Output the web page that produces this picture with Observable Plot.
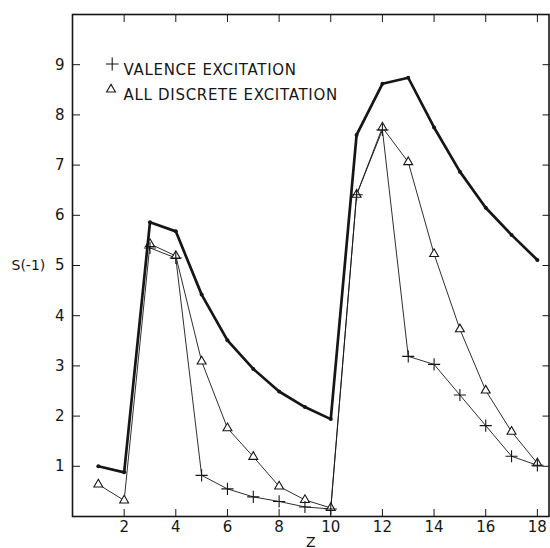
<!DOCTYPE html>
<html><head><meta charset="utf-8">
<script src="https://cdn.jsdelivr.net/npm/d3@7"></script>
<script src="https://cdn.jsdelivr.net/npm/@observablehq/plot@0.6"></script>
<style>
html,body{margin:0;padding:0;background:#fff;}
</style></head><body><div id="chart"></div>
<script>
// Atomic number Z
const zValues = [1,2,3,4,5,6,7,8,9,10,11,12,13,14,15,16,17,18];
// Total S(-1) (thick line, filled dots)
const totalS = [1.00,0.88,5.86,5.68,4.42,3.51,2.94,2.49,2.18,1.94,7.60,8.62,8.74,7.75,6.87,6.15,5.61,5.11];
// All discrete excitation (triangles)
const discreteS = [0.64,0.32,5.43,5.19,3.09,1.76,1.19,0.60,0.33,0.17,6.41,7.75,7.06,5.23,3.73,2.51,1.69,1.06];
// Valence excitation (crosses)
const valenceZ = [3,4,5,6,7,8,9,10,11,12,13,14,15,16,17,18];
const valenceS = [5.35,5.15,0.82,0.55,0.39,0.30,0.19,0.15,6.41,7.70,3.19,3.03,2.42,1.81,1.20,1.02];

const xTicks = [2,4,6,8,10,12,14,16,18];
const yTicks = [1,2,3,4,5,6,7,8,9];
const legendLabels = ["VALENCE EXCITATION", "ALL DISCRETE EXCITATION"];
const yLabel = "S(-1)";
const xLabel = "Z";

const total = zValues.map((z, i) => ({z, s: totalS[i]}));
const discrete = zValues.map((z, i) => ({z, s: discreteS[i]}));
const valence = valenceZ.map((z, i) => ({z, s: valenceS[i]}));

const ink = "#161616";
const fmt = d3.format("d");
const chart = Plot.plot({
  width: 550, height: 548,
  marginLeft: 72, marginRight: 1.5, marginTop: 14, marginBottom: 32,
  x: {domain: [0, 18.45]},
  y: {domain: [0, 10]},
  style: {fontFamily: "'DejaVu Sans', sans-serif", fontSize: "15px", color: ink, background: "#fff"},
  marks: [
    Plot.axisY(yTicks, {anchor: "left", tickSize: -8, tickPadding: 16, tickFormat: fmt, label: null, stroke: ink, fontSize: 15}),
    Plot.axisY(yTicks, {anchor: "right", tickSize: -7, tickFormat: () => "", label: null, stroke: ink}),
    Plot.axisX(xTicks, {anchor: "bottom", tickSize: -7, tickPadding: 12, tickFormat: fmt, label: null, stroke: ink, fontSize: 15}),
    Plot.axisX(xTicks, {anchor: "top", tickSize: -7, tickFormat: () => "", label: null, stroke: ink}),
    Plot.frame({stroke: ink, strokeWidth: 1.6}),
    Plot.line(valence, {x: "z", y: "s", stroke: ink, strokeWidth: 0.9}),
    Plot.line(discrete, {x: "z", y: "s", stroke: ink, strokeWidth: 0.9}),
    Plot.dot(discrete, {x: "z", y: "s", symbol: "triangle", r: 3.3, stroke: ink, fill: "white", strokeWidth: 1.1}),
    Plot.dot(valence, {x: "z", y: "s", symbol: "plus", r: 4, stroke: ink, strokeWidth: 1.1}),
    Plot.line(total, {x: "z", y: "s", stroke: ink, strokeWidth: 2.7}),
    Plot.dot(total, {x: "z", y: "s", r: 2, fill: ink}),
    // legend
    Plot.dot([legendLabels[0]], {frameAnchor: "top-left", dx: 39.7, dy: 49.5, symbol: "plus", r: 4.2, stroke: ink, strokeWidth: 1.1}),
    Plot.dot([legendLabels[1]], {frameAnchor: "top-left", dx: 38.5, dy: 75, symbol: "triangle", r: 3.3, stroke: ink, strokeWidth: 1.1}),
    Plot.text([legendLabels[0]], {frameAnchor: "top-left", dx: 51, dy: 49.8, textAnchor: "start", fontSize: 15, fill: ink, className: "legend-text"}),
    Plot.text([legendLabels[1]], {frameAnchor: "top-left", dx: 51, dy: 75, textAnchor: "start", fontSize: 15, fill: ink, className: "legend-text"}),
    // axis titles
    Plot.text([yLabel], {frameAnchor: "left", dx: -61, textAnchor: "start", fontSize: 14, fill: ink}),
    Plot.text([xLabel], {frameAnchor: "bottom", dy: 21, lineAnchor: "top", fontSize: 14, fill: ink})
  ]
});
d3.select(chart).selectAll(".legend-text text").style("letter-spacing", "0.7px");
document.getElementById("chart").appendChild(chart);
</script>
</body></html>
